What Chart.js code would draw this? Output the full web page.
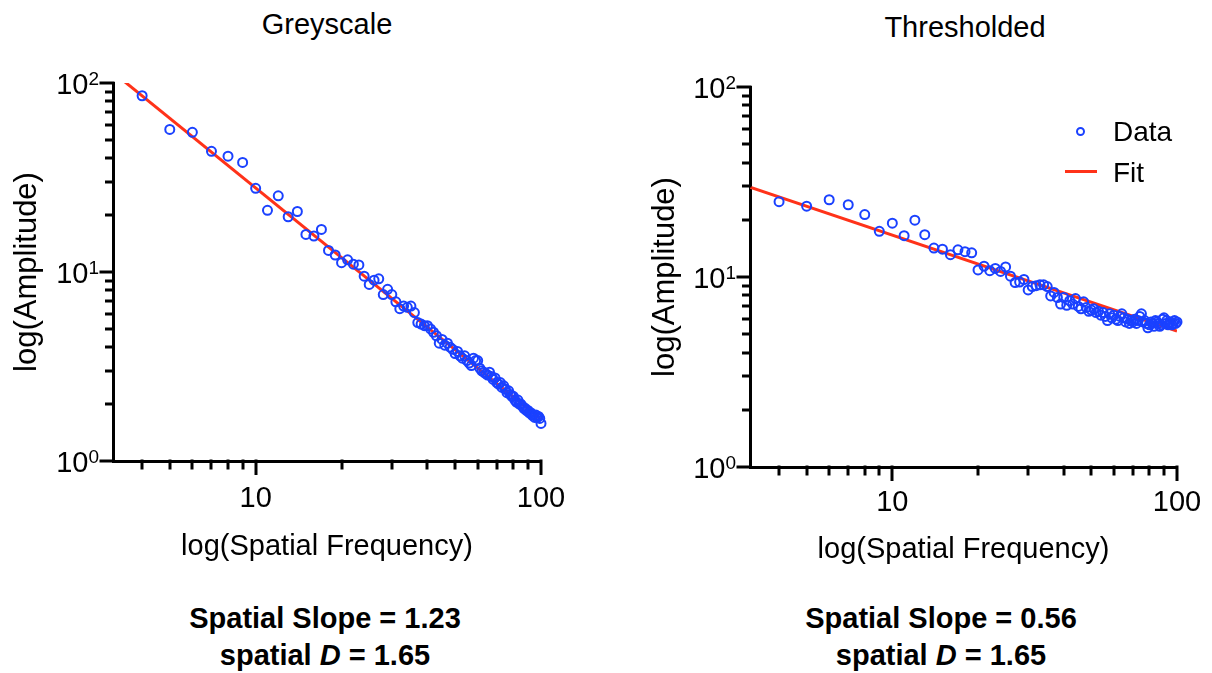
<!DOCTYPE html>
<html><head><meta charset="utf-8">
<script src="https://cdn.jsdelivr.net/npm/chart.js@4.4.1/dist/chart.umd.min.js"></script>
<style>
html,body{margin:0;padding:0;background:#fff;}
body{width:1212px;height:673px;position:relative;overflow:hidden;font-family:'Liberation Sans',Arial,Helvetica,sans-serif;color:#000;}
canvas{position:absolute;display:block;}
.t{position:absolute;font-size:29px;line-height:29px;text-align:center;white-space:nowrap;}
.b{font-weight:bold;}
.lg{position:absolute;font-size:28px;line-height:28px;white-space:nowrap;}
</style></head><body>
<div class="t" style="left:127px;width:400px;top:9.5px">Greyscale</div>
<div class="t" style="left:765px;width:400px;top:12.5px">Thresholded</div>
<canvas id="c1" width="600" height="580" style="left:0;top:0"></canvas>
<canvas id="c2" width="610" height="580" style="left:620px;top:0"></canvas>
<div style="position:absolute;left:1075.5px;top:126.5px;width:5px;height:5px;border:2px solid #1a41ff;border-radius:50%"></div>
<div style="position:absolute;left:1065px;top:169.5px;width:32px;height:3px;background:#ff3219"></div>
<div class="lg" style="left:1113px;top:118px">Data</div>
<div class="lg" style="left:1113px;top:159px">Fit</div>
<div class="t b" style="left:125px;width:400px;top:603.5px">Spatial Slope = 1.23</div>
<div class="t b" style="left:125px;width:400px;top:640.5px">spatial <i>D</i> = 1.65</div>
<div class="t b" style="left:741px;width:400px;top:603.5px">Spatial Slope = 0.56</div>
<div class="t b" style="left:741px;width:400px;top:641px">spatial <i>D</i> = 1.65</div>
<script>
const FONT = "'Liberation Sans', Arial, Helvetica, sans-serif";
const BLUE = '#1a41ff';
const RED = '#ff3219';

// spatial frequency (x) values
const freq = [4,5,6,7,8,9,10,11,12,13,
  14,15,16,17,18,19,20,21,22,23,
  24,25,26,27,28,29,30,31,32,33,
  34,35,36,37,38,39,40,41,42,43,
  44,45,46,47,48,49,50,51,52,53,
  54,55,56,57,58,59,60,61,62,63,
  64,65,66,67,68,69,70,71,72,73,
  74,75,76,77,78,79,80,81,82,83,
  84,85,86,87,88,89,90,91,92,93,
  94,95,96,97,98,99,100];

// Greyscale amplitude
const greyAmp = [85.6,56.8,54.8,43.5,41.0,38.0,27.7,21.2,25.3,19.6,
  20.9,15.8,15.5,16.8,13.0,12.3,11.2,11.6,11.0,10.9,
  9.5,8.6,9.05,9.2,7.6,8.1,7.6,6.95,6.4,6.6,
  6.5,6.6,6.1,5.4,5.3,5.2,5.2,5.0,4.8,4.6,
  4.2,4.4,4.1,4.2,4.0,3.9,3.7,3.8,3.6,3.5,
  3.6,3.4,3.3,3.2,3.5,3.4,3.4,3.1,3.0,2.95,
  2.9,2.85,2.95,2.8,2.7,2.75,2.6,2.55,2.6,2.45,
  2.5,2.4,2.3,2.35,2.25,2.2,2.2,2.1,2.05,2.1,
  2.0,2.0,1.95,1.9,1.9,1.85,1.85,1.8,1.8,1.75,
  1.75,1.7,1.75,1.7,1.72,1.68,1.58];

// Thresholded amplitude
const threshAmp = [24.9,23.6,25.5,24.0,21.3,17.4,19.2,16.5,19.9,16.7,
  14.2,14.0,13.1,13.9,13.6,13.4,10.9,11.4,10.8,11.1,
  10.7,11.3,10.1,9.35,9.4,9.7,8.55,8.9,9.0,9.1,
  9.1,8.9,7.95,8.3,7.8,7.2,7.8,7.1,7.5,7.2,
  7.7,7.0,6.8,7.4,6.9,6.6,6.7,6.8,6.5,6.6,
  6.3,6.5,6.2,5.9,6.4,6.1,6.3,6.0,5.9,6.2,
  6.4,6.1,5.8,6.0,5.7,5.9,5.8,6.0,5.7,5.9,
  6.2,6.4,5.8,5.9,5.7,5.4,5.6,5.8,5.7,5.5,
  5.9,5.8,5.7,5.5,5.6,6.0,6.1,5.7,5.9,5.6,
  5.7,5.8,5.6,5.7,5.9,5.7,5.8];

// Fit line end points
const greyFitX = [3.1623, 100];
const greyFitY = [114, 1.66];
const threshFitX = [3.1623, 100];
const threshFitY = [29.7, 5.19];

// Axis ranges and ticks
const xMin = 3.1623, xMax = 100;
const yMin = 1, yMax = 100;
const xTickValues = [4,5,6,7,8,9,10,20,30,40,50,60,70,80,90,100];
const xMajorTicks = [10, 100];
const xTickLabels = ['10', '100'];
const yTickValues = [1,2,3,4,5,6,7,8,9,10,20,30,40,50,60,70,80,90,100];
const yMajorTicks = [1, 10, 100];
const yTickBase = ['10', '10', '10'];
const yTickExp = ['0', '1', '2'];

const axisDeco = {
  id: 'axisDeco',
  afterDraw(chart) {
    const ctx = chart.ctx, xs = chart.scales.x, ys = chart.scales.y, a = chart.chartArea;
    ctx.save();
    ctx.strokeStyle = '#000'; ctx.lineWidth = 3; ctx.lineCap = 'butt';
    xTickValues.forEach(v => {
      const px = Math.round(xs.getPixelForValue(v));
      const len = xMajorTicks.includes(v) ? 14 : 8.5;
      ctx.beginPath(); ctx.moveTo(px, a.bottom - 1.5); ctx.lineTo(px, a.bottom + len); ctx.stroke();
    });
    yTickValues.forEach(v => {
      const py = Math.round(ys.getPixelForValue(v));
      const len = yMajorTicks.includes(v) ? 13.5 : 8;
      ctx.beginPath(); ctx.moveTo(a.left + 1.5, py); ctx.lineTo(a.left - len, py); ctx.stroke();
    });
    // y tick labels with superscript exponents
    ctx.fillStyle = '#000';
    ctx.textBaseline = 'alphabetic';
    ctx.textAlign = 'left';
    yMajorTicks.forEach((v, i) => {
      const py = ys.getPixelForValue(v);
      const xEnd = a.left - 14;
      ctx.font = '19px ' + FONT;
      const we = ctx.measureText(yTickExp[i]).width;
      ctx.font = '29px ' + FONT;
      const wb = ctx.measureText(yTickBase[i]).width;
      const base = py + 10.5;
      ctx.fillText(yTickBase[i], xEnd - we - wb, base);
      ctx.font = '19px ' + FONT;
      ctx.fillText(yTickExp[i], xEnd - we, base - 9);
    });
    ctx.restore();
  }
};

function makeChart(id, amp, fitX, fitY, geo) {
  const points = freq.map((f, i) => ({x: f, y: amp[i]}));
  const fit = fitX.map((x, i) => ({x: x, y: fitY[i]}));
  return new Chart(document.getElementById(id), {
    type: 'scatter',
    data: {
      datasets: [
        {label: 'Data', data: points, showLine: false, pointStyle: 'circle', pointRadius: 4.5,
         pointBorderWidth: 2, borderColor: BLUE, backgroundColor: 'rgba(0,0,0,0)',
         pointBackgroundColor: 'rgba(0,0,0,0)', pointBorderColor: BLUE, clip: false},
        {label: 'Fit', data: fit, showLine: true, borderColor: RED, borderWidth: 3,
         pointRadius: 0, backgroundColor: RED}
      ]
    },
    options: {
      responsive: false, animation: false, devicePixelRatio: 1,
      layout: {padding: {top: geo.top, right: geo.right, left: 0, bottom: 0}},
      plugins: {legend: {display: false}, tooltip: {enabled: false}, title: {display: false}},
      events: [],
      scales: {
        x: {
          type: 'logarithmic', min: xMin, max: xMax, position: 'bottom',
          afterBuildTicks: s => { s.ticks = xTickValues.map(v => ({value: v})); },
          afterFit: s => { s.height = geo.xh; },
          grid: {display: false, drawTicks: false},
          border: {display: true, color: '#000', width: 3},
          ticks: {autoSkip: false, maxRotation: 0, minRotation: 0, padding: geo.xpad, color: '#000',
                  font: {family: FONT, size: 29},
                  callback: v => { const k = xMajorTicks.indexOf(v); return k >= 0 ? xTickLabels[k] : ''; }},
          title: {display: true, text: 'log(Spatial Frequency)', color: '#000',
                  font: {family: FONT, size: 29}, padding: {top: 0, bottom: geo.xtb}}
        },
        y: {
          type: 'logarithmic', min: yMin, max: yMax, position: 'left',
          afterBuildTicks: s => { s.ticks = yTickValues.map(v => ({value: v})); },
          afterFit: s => { s.width = geo.yw; },
          grid: {display: false, drawTicks: false},
          border: {display: true, color: '#000', width: 3},
          ticks: {display: false},
          title: {display: true, text: 'log(Amplitude)', color: '#000',
                  font: {family: FONT, size: 31}, padding: {top: geo.ytp, bottom: 0}}
        }
      }
    },
    plugins: [axisDeco]
  });
}

makeChart('c1', greyAmp, greyFitX, greyFitY, {top: 83, right: 59, xh: 119, xpad: 20.6, xtb: 15.6, yw: 113, ytp: 9});
makeChart('c2', threshAmp, threshFitX, threshFitY, {top: 87, right: 53, xh: 113, xpad: 18.6, xtb: 12.6, yw: 130, ytp: 26.4});
</script>
</body></html>
